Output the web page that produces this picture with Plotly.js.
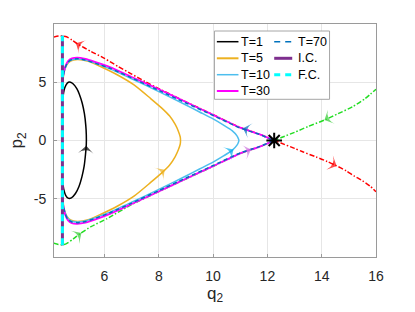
<!DOCTYPE html>
<html>
<head>
<meta charset="utf-8">
<script src="https://cdn.plot.ly/plotly-3.0.1.min.js"></script>
<style>html,body{margin:0;padding:0;background:#fff}#chart{width:415px;height:312px}</style>
</head>
<body>
<div id="chart"></div>
<script>
// ---- data (q2, p2) ----
const t1Q = [4.46,4.5,4.57,4.66,4.78,4.93,5.06,5.17,5.25,5.3,5.33,5.33,5.31,5.26,5.18,5.07,4.98,4.85,4.75,4.67,4.58,4.51,4.47];
const t1P = [-3.5,-4.2,-4.7,-4.95,-4.92,-4.55,-3.95,-3.1,-2.2,-1.2,-0.3,0.5,1.3,2.3,3.2,4.0,4.45,4.85,5.0,5.0,4.75,4.3,3.7];

const t5Q = [4.45,4.5,4.6,4.75,5.0,5.4,5.85,6.5,7.1,7.7,8.1,8.4,8.6,8.72,8.79,8.8,8.79,8.72,8.6,8.4,8.1,7.7,7.1,6.5,5.85,5.4,5.0,4.75,4.6,4.5,4.45];
const t5P = [-4.5,-5.7,-6.45,-6.82,-6.95,-6.8,-6.35,-5.6,-4.75,-3.6,-2.8,-2.1,-1.4,-0.8,-0.3,0,0.3,0.8,1.4,2.1,2.8,3.6,4.75,5.6,6.35,6.8,6.95,6.82,6.45,5.7,4.5];

const t10Q = [4.45,4.48,4.55,4.65,4.8,5.0,5.3,5.7,6.2,7.0,8.0,9.0,9.5,10.0,10.4,10.7,10.88,10.94,10.95,10.94,10.88,10.7,10.4,10.0,9.5,9.0,8.0,7.0,6.2,5.7,5.3,5.0,4.8,4.65,4.55,4.48,4.45];
const t10P = [-4.6,-5.5,-6.2,-6.7,-6.93,-7.0,-6.9,-6.6,-6.15,-5.3,-4.2,-3.05,-2.45,-1.85,-1.3,-0.85,-0.4,-0.1,0,0.1,0.4,0.85,1.3,1.85,2.45,3.05,4.2,5.3,6.15,6.6,6.9,7.0,6.93,6.7,6.2,5.5,4.6];

const t30Q = [4.45,4.48,4.55,4.65,4.8,5.0,5.3,5.7,6.2,7.0,8.0,9.0,10.0,11.0,11.7,12.1,12.22,12.1,11.7,11.0,10.0,9.0,8.0,7.0,6.2,5.7,5.3,5.0,4.8,4.65,4.55,4.48,4.45];
const t30P = [-4.6,-5.6,-6.35,-6.85,-7.1,-7.15,-7.05,-6.75,-6.3,-5.45,-4.38,-3.28,-2.2,-1.1,-0.55,-0.15,0,0.15,0.55,1.1,2.2,3.3,4.4,5.45,6.3,6.7,7.0,7.12,7.05,6.8,6.3,5.6,4.6];

const t70Q = [4.45,4.48,4.55,4.65,4.8,5.0,5.3,5.7,6.2,7.0,8.0,9.0,10.0,11.0,11.7,12.1,12.24,12.1,11.7,11.0,10.0,9.0,8.0,7.0,6.2,5.7,5.3,5.0,4.8,4.65,4.55,4.48,4.45];
const t70P = [-4.6,-5.55,-6.28,-6.77,-7.0,-7.05,-6.95,-6.65,-6.2,-5.37,-4.3,-3.22,-2.15,-1.07,-0.53,-0.14,0,0.14,0.53,1.07,2.15,3.22,4.3,5.37,6.2,6.6,6.9,7.02,6.95,6.72,6.25,5.55,4.6];

const icQ = [4.45,4.45];
const icP = [-9.0,9.0];
const fcQ = [4.45,4.45];
const fcP = [-9.0,9.0];

// unstable manifold (red) and stable manifold (green)
const unstQ = [4.13,4.3,4.45,4.6,4.8,5.0,5.5,6.0,6.5,7.0,7.5,8.0,9.0,10.0,11.0,11.7,12.25,12.5,13.0,13.3,13.8,14.2,14.5,14.9,15.2,15.5,15.8,16.0];
const unstP = [8.88,8.96,8.97,8.9,8.62,8.3,7.65,7.05,6.35,5.7,5.05,4.45,3.32,2.22,1.11,0.55,0,-0.22,-0.68,-0.97,-1.42,-1.8,-2.12,-2.6,-3.05,-3.45,-3.95,-4.4];
const stQ = [4.13,4.3,4.45,4.6,4.85,5.1,5.5,6.1,7.0,8.0,9.0,10.0,11.0,11.7,12.25,12.54,13.0,13.5,14.15,14.6,15.14,15.6,16.0];
const stP = [-8.82,-8.92,-8.95,-8.85,-8.45,-8.0,-7.4,-6.7,-5.5,-4.38,-3.3,-2.22,-1.11,-0.55,0,0.28,0.7,1.2,1.8,2.3,2.9,3.6,4.4];

const eqQ = [12.25];
const eqP = [0];

// direction arrows: tail and head points (q2, p2)
const arrowHeadQ = [5.33, 8.22, 10.75, 11.4, 11.1, 4.95, 14.55, 5.15, 14.1];
const arrowHeadP = [-0.45, -2.5, -0.78, -0.78, 1.06, 8.35, -2.18, -7.95, 1.75];
const arrowTailQ = [5.31, 7.95, 10.5, 11.05, 11.45, 5.3, 14.2, 4.85, 14.45];
const arrowTailP = [-1.2, -2.95, -1.15, -1.07, 0.78, 7.9, -1.8, -8.4, 2.15];

const xTicks = [6,8,10,12,14,16];
const yTicks = [-5,0,5];
const legendLabels = ['T=1','T=5','T=10','T=30','T=70','I.C.','F.C.'];

// ---- styles ----
const arrowColors = ['#000000','#EDB120','#00AEEF','#CC77DD','#0072BD','#FF0000','#FF0000','#33CC33','#33CC33'];
const FONT = 'Liberation Sans, Arial, Helvetica, sans-serif';
const DD = '5px,2px,1.5px,2px';

const traces = [
  {x: unstQ, y: unstP, mode:'lines', line:{color:'#FF0000', width:1.5, dash:DD, shape:'spline', smoothing:0.6}},
  {x: stQ, y: stP, mode:'lines', line:{color:'#22DD22', width:1.5, dash:DD, shape:'spline', smoothing:0.6}},
  {x: t1Q, y: t1P, mode:'lines', line:{color:'#000000', width:1.5, shape:'spline', smoothing:0.6}},
  {x: t5Q, y: t5P, mode:'lines', line:{color:'#EDB120', width:1.5, shape:'spline', smoothing:0.6}},
  {x: t10Q, y: t10P, mode:'lines', line:{color:'#4DBEEE', width:1.5, shape:'spline', smoothing:0.6}},
  {x: t30Q, y: t30P, mode:'lines', line:{color:'#FF00FF', width:1.8, shape:'spline', smoothing:0.6}},
  {x: t70Q, y: t70P, mode:'lines', line:{color:'#0072BD', width:1.5, dash:'4px,3px', shape:'spline', smoothing:0.6}},
  {x: icQ, y: icP, mode:'lines', line:{color:'#7E2F8E', width:3}},
  {x: fcQ, y: fcP, mode:'lines', line:{color:'#00FFFF', width:3, dash:'7px,5px'}},
  {x: eqQ, y: eqP, mode:'markers', marker:{symbol:'asterisk-open', size:13, line:{color:'#000', width:2}, color:'#000'}}
];

// arrowheads as rotated markers (direction from tail to head)
arrowHeadQ.forEach((q, i) => {
  traces.push({x:[arrowTailQ[i], q], y:[arrowTailP[i], arrowHeadP[i]], mode:'markers',
    marker:{symbol:'arrow-wide', angleref:'previous', size:[0, 11], color:arrowColors[i], line:{width:0}}});
});

// plot area in pixels
const L = 54, R = 375.7, T = 24, B = 257;
const px2x = px => (px - L) / (R - L);
const py2y = py => 1 - (py - T) / (B - T);

const annotations = [];

// manual legend
const legRows = [41.7, 58.3, 74.7, 91];
const legItems = [
  {col:0,row:0,color:'#000000',width:1.5,dash:'solid'},
  {col:0,row:1,color:'#EDB120',width:2,dash:'solid'},
  {col:0,row:2,color:'#4DBEEE',width:1.5,dash:'solid'},
  {col:0,row:3,color:'#FF00FF',width:2,dash:'solid'},
  {col:1,row:0,color:'#0072BD',width:1.5,dash:'6px,5px'},
  {col:1,row:1,color:'#7E2F8E',width:3,dash:'solid'},
  {col:1,row:2,color:'#00FFFF',width:3,dash:'6px,5px'}
];
const colLine = [[216.7,238.3],[274,292]];
const colText = [239.5,296.5];

const shapes = [{type:'rect', xref:'paper', yref:'paper', x0:px2x(214.3), x1:px2x(329.3), y0:py2y(31), y1:py2y(99.3),
  line:{color:'#A6A6A6', width:1}, fillcolor:'#FFFFFF', layer:'above'}];
legItems.forEach((it, i) => {
  shapes.push({type:'line', xref:'paper', yref:'paper', x0:px2x(colLine[it.col][0]), x1:px2x(colLine[it.col][1]),
    y0:py2y(legRows[it.row]), y1:py2y(legRows[it.row]), line:{color:it.color, width:it.width, dash:it.dash}, layer:'above'});
  annotations.push({xref:'paper', yref:'paper', x:px2x(colText[it.col]), y:py2y(legRows[it.row]), xanchor:'left', yanchor:'middle',
    text:legendLabels[i], showarrow:false, font:{family:FONT, size:12.5, color:'#000'}, borderpad:0});
});

const layout = {
  width:415, height:312,
  margin:{l:L, r:415-R, t:T, b:312-B, pad:0},
  paper_bgcolor:'#fff', plot_bgcolor:'#fff',
  showlegend:false,
  font:{family:FONT, color:'#262626'},
  xaxis:{range:[4.14,16], tickvals:xTicks, ticktext:xTicks.map(String), showgrid:true, gridcolor:'#E6E6E6', gridwidth:1,
    zeroline:false, showline:true, mirror:true, linecolor:'#9A9A9A', linewidth:1, ticks:'inside', ticklen:3, tickcolor:'#9A9A9A',
    tickfont:{size:14, color:'#262626'}, ticklabelstandoff:6,
    title:{text:'q<sub>2</sub>', font:{size:17, color:'#262626'}, standoff:0}},
  yaxis:{range:[-10,10], tickvals:yTicks, ticktext:yTicks.map(String), showgrid:true, gridcolor:'#E6E6E6', gridwidth:1,
    zeroline:false, showline:true, mirror:true, linecolor:'#9A9A9A', linewidth:1, ticks:'inside', ticklen:3, tickcolor:'#9A9A9A',
    tickfont:{size:14, color:'#262626'}, ticklabelstandoff:4,
    title:{text:'p<sub>2</sub>', font:{size:17, color:'#262626'}, standoff:6}},
  shapes: shapes,
  annotations: annotations
};

Plotly.newPlot('chart', traces, layout, {staticPlot:true, displayModeBar:false});
</script>
</body>
</html>
